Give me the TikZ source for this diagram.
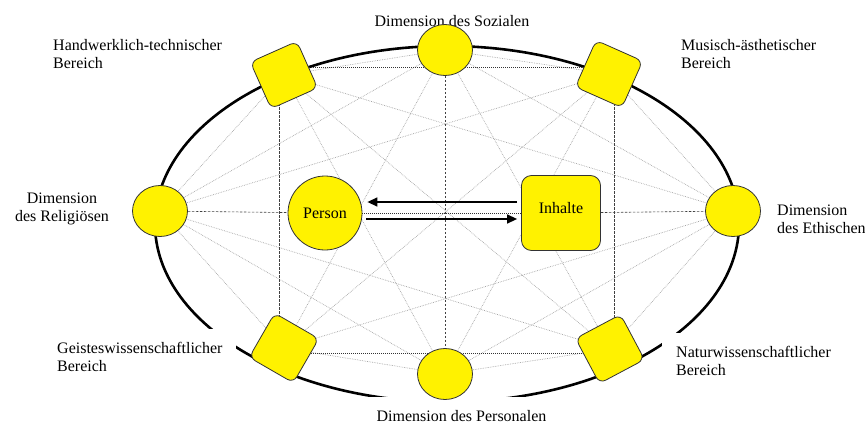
\documentclass[tikz,border=0pt]{standalone}
\usepackage{fontspec}
\setmainfont{Liberation Serif}
\usetikzlibrary{arrows.meta,shapes.geometric,calc,backgrounds}
\begin{document}
\begin{tikzpicture}[x=1pt,y=-1pt,
  font=\fontsize{16}{18}\selectfont,
  dim/.style={ellipse,draw=black!80,line width=0.8pt,fill=yellow,minimum width=55pt,minimum height=51pt,inner sep=0pt},
  area/.style={draw=black!80,line width=0.8pt,fill=yellow,rounded corners=7pt,minimum size=51pt,inner sep=0pt},
  web/.style={gray!70,densely dotted,line width=0.7pt},
  axisline/.style={black!75,dash pattern=on 2.5pt off 1.5pt,line width=0.6pt},
  dotline/.style={black!80,dash pattern=on 1pt off 1pt,line width=0.6pt},
  lbl/.style={fill=white,inner xsep=14pt,inner ysep=13pt,align=left},
  arr/.style={-{Triangle[length=10pt,width=9pt]},line width=1.4pt}
]
\useasboundingbox (0,0) rectangle (865,423);

% outer nodes
\node[dim] (T) at (445,50) {};
\node[dim] (B) at (445,374) {};
\node[dim] (L) at (160,211) {};
\node[dim] (R) at (733,211) {};
\node[area,rotate=24] (TL) at (284,75) {};
\node[area,rotate=-24] (TR) at (609,74) {};
\node[area,rotate=-30] (BL) at (284,348) {};
\node[area,rotate=28] (BR) at (610,349) {};

% inner nodes
\node[circle,draw=black!80,line width=0.8pt,fill=yellow,minimum size=74pt,inner sep=0pt] (P) at (325,213) {Person};
\node[draw=black!80,line width=0.8pt,fill=yellow,rounded corners=10pt,minimum width=79pt,minimum height=75pt,text depth=10pt] (I) at (561,213) {Inhalte};

% rectangle corners
\coordinate (r1) at (279,67);
\coordinate (r2) at (614,67);
\coordinate (r3) at (614,353);
\coordinate (r4) at (279,353);

\begin{pgfonlayer}{background}
  \draw[line width=2.6pt] (447,224) ellipse [x radius=292pt, y radius=178pt];
  \foreach \a/\b in {T/TR,T/R,T/BR,T/BL,T/L,T/TL,
                     TR/R,TR/B,TR/BL,TR/L,
                     R/BR,R/B,R/BL,R/TL,
                     BR/B,BR/L,BR/TL,
                     B/BL,B/L,B/TL,
                     BL/L,L/TL}
    \draw[web] (\a.center) -- (\b.center);
  \draw[dotline] (r1) -- (r2);
  \draw[dotline] (r4) -- (r3);
  \draw[axisline] (r1) -- (r4);
  \draw[axisline] (r2) -- (r3);
  \draw[axisline] (T) -- (B);
  \draw[axisline] (L) -- (P);
  \draw[dotline] (P) -- (I);
  \draw[axisline] (I) -- (R);
  % labels with white boxes over the ellipse
  \node[lbl,anchor=base] (lsoz) at (452,26) {Dimension des Sozialen};
  \node[lbl,anchor=base west] (lhand) at (39,68) {Handwerklich-technischer\\Bereich};
  \node[lbl,anchor=base west] (lmus) at (667,68) {Musisch-ästhetischer\\Bereich};
  \node[lbl,anchor=base,align=center] (lrel) at (62,221) {Dimension\\des Religiösen};
  \node[lbl,anchor=base west] (leth) at (763,233) {Dimension\\des Ethischen};
  \node[lbl,anchor=base west] (lgei) at (43,371) {Geisteswissenschaftlicher\\Bereich};
  \node[lbl,anchor=base west] (lnat) at (662,375) {Naturwissenschaftlicher\\Bereich};
  \node[lbl,anchor=base,inner ysep=12.5pt] (lper) at (461.5,421) {Dimension des Personalen};
\end{pgfonlayer}

% arrows
\draw[arr] ($(I.west)+(-4,-11)$) -- ($(P.east)+(5,-11)$);
\draw[arr] ($(P.east)+(4,6)$) -- ($(I.west)+(-4,6)$);
\end{tikzpicture}
\end{document}
